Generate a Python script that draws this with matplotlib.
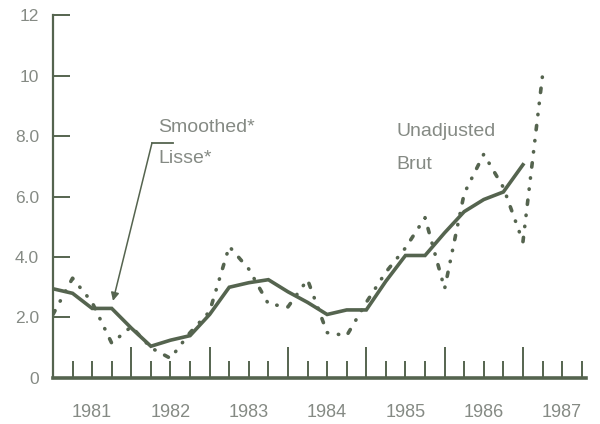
import matplotlib
matplotlib.use("Agg")
import matplotlib.pyplot as plt
from matplotlib.ticker import FixedLocator, FixedFormatter, NullFormatter

# Quarterly time points
quarters = [1981.00, 1981.25, 1981.50, 1981.75,
            1982.00, 1982.25, 1982.50, 1982.75,
            1983.00, 1983.25, 1983.50, 1983.75,
            1984.00, 1984.25, 1984.50, 1984.75,
            1985.00, 1985.25, 1985.50, 1985.75,
            1986.00, 1986.25, 1986.50, 1986.75,
            1987.00, 1987.25]

smoothed = [2.95, 2.80, 2.30, 2.30,
            1.65, 1.05, 1.25, 1.40,
            2.10, 3.00, 3.15, 3.25,
            2.85, 2.50, 2.10, 2.25,
            2.25, 3.20, 4.05, 4.05,
            4.80, 5.50, 5.90, 6.15,
            7.05]

unadjusted = [2.10, 3.30, 2.50, 1.15,
              1.70, 1.00, 0.65, 1.50,
              2.20, 4.35, 3.60, 2.45,
              2.35, 3.25, 1.50, 1.40,
              2.50, 3.50, 4.30, 5.30,
              2.95, 6.10, 7.40, 6.30,
              4.50, 10.00]

years = ["1981", "1982", "1983", "1984", "1985", "1986", "1987"]
ytick_vals = [0, 2, 4, 6, 8, 10, 12]
ytick_labels = ["0", "2.0", "4.0", "6.0", "8.0", "10", "12"]

line_col = "#55644f"
text_col = "#858a84"

plt.rcParams['font.family'] = ['Liberation Sans', 'DejaVu Sans']

fig = plt.figure(figsize=(6.0, 4.24), dpi=100)
ax = fig.add_axes([0.0883, 0.1085, 0.8877, 0.8561])

ax.plot(quarters[:len(smoothed)], smoothed, color=line_col, lw=2.6,
        solid_joinstyle='miter', zorder=3)
ax.plot(quarters, unadjusted, color=line_col, lw=2.6,
        linestyle=(0, (1.2, 3.0, 0.1, 3.0, 0.1, 3.0)),
        dash_capstyle='round', zorder=3)

ax.set_xlim(1981.0, 1987.8)
ax.set_ylim(0, 12)

for s in ['top', 'right']:
    ax.spines[s].set_visible(False)
ax.spines['left'].set_color(line_col)
ax.spines['left'].set_linewidth(1.6)
ax.spines['bottom'].set_color(line_col)
ax.spines['bottom'].set_linewidth(2.6)

# y ticks
ax.yaxis.set_major_locator(FixedLocator(ytick_vals))
ax.yaxis.set_major_formatter(FixedFormatter(ytick_labels))
ax.tick_params(axis='y', direction='in', length=12, width=1.4,
               color=line_col, labelcolor=text_col, labelsize=12.5, pad=10)

# x ticks: labels at mid-year, short ticks at quarters
mid_years = [int(y) + 0.5 for y in years]
ax.xaxis.set_major_locator(FixedLocator(mid_years))
ax.xaxis.set_major_formatter(FixedFormatter(years))
qticks = [int(y) + q for y in years for q in (0.25, 0.75)]
ax.xaxis.set_minor_locator(FixedLocator(qticks))
ax.xaxis.set_minor_formatter(NullFormatter())
ax.tick_params(axis='x', which='both', direction='in', length=12, width=1.4,
               color=line_col)
ax.tick_params(axis='x', which='major', labelcolor=text_col, labelsize=13,
               pad=19)

# long ticks at year boundaries
sec = ax.secondary_xaxis('bottom')
sec.xaxis.set_major_locator(FixedLocator([int(y) for y in years[1:]]))
sec.xaxis.set_major_formatter(NullFormatter())
sec.tick_params(direction='in', length=22, width=1.4, color=line_col)
sec.spines['bottom'].set_visible(False)

# annotations
ax.text(1982.34, 8.13, "Smoothed*", color=text_col, fontsize=14,
        ha='left', va='baseline')
ax.text(1982.34, 7.11, "Lisse*", color=text_col, fontsize=14,
        ha='left', va='baseline')
ax.plot([1982.264, 1982.532], [7.77, 7.77], color=line_col, lw=1.3)
ax.annotate("", xy=(1981.766, 2.55), xytext=(1982.264, 7.77),
            arrowprops=dict(arrowstyle='-|>', color=line_col, lw=1.1,
                            mutation_scale=12, shrinkA=0, shrinkB=0))

ax.text(1985.39, 8.0, "Unadjusted", color=text_col, fontsize=14,
        ha='left', va='baseline')
ax.text(1985.39, 6.91, "Brut", color=text_col, fontsize=14,
        ha='left', va='baseline')

fig.savefig("out.png", dpi=100)
